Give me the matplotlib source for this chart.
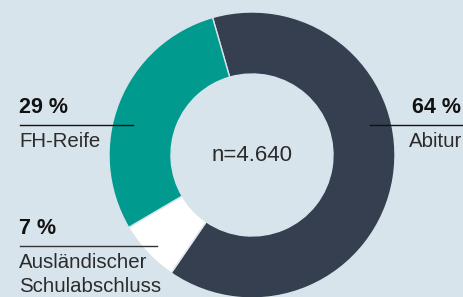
import matplotlib.pyplot as plt

labels = ["Abitur", "Ausländischer\nSchulabschluss", "FH-Reife"]
shares = [64, 7, 29]
colors = ["#353f4f", "#ffffff", "#009a8e"]
n_total = "4.640"

BG = "#d8e4ec"
H = 297

plt.rcParams['font.family'] = ['Liberation Sans', 'DejaVu Sans']

fig = plt.figure(figsize=(4.64, 2.97), dpi=100, facecolor=BG)
ax = fig.add_axes([0, 0, 1, 1])

ax.pie(shares, colors=colors, startangle=106, counterclock=False,
       center=(252, H - 155), radius=143,
       wedgeprops=dict(width=62, edgecolor=BG, linewidth=1))
ax.set_xlim(0, 464)
ax.set_ylim(0, H)
ax.set_aspect("equal")
ax.axis("off")

fs = 14.7
fsb = 15.5
tc = "#2b2b2b"
bc = "#111111"

ax.text(252, H - 155, f"n={n_total}", ha="center", va="center", fontsize=16, color=tc)

# FH-Reife (left top)
ax.text(19, H - 107, f"{shares[2]} %", ha="left", va="center", fontsize=fsb, fontweight="bold", color=bc)
ax.plot([20, 133], [H - 125, H - 125], color=bc, lw=1)
ax.text(19, H - 141, labels[2], ha="left", va="center", fontsize=fs, color=tc)

# Abitur (right)
ax.text(461, H - 107, f"{shares[0]} %", ha="right", va="center", fontsize=fsb, fontweight="bold", color=bc)
ax.plot([370, 464], [H - 125, H - 125], color=bc, lw=1)
ax.text(462, H - 141, labels[0], ha="right", va="center", fontsize=fs, color=tc)

# Ausländischer Schulabschluss (left bottom)
ax.text(19, H - 229, f"{shares[1]} %", ha="left", va="center", fontsize=fsb, fontweight="bold", color=bc)
ax.plot([20, 157], [H - 246.5, H - 246.5], color="#333333", lw=1)
l1, l2 = labels[1].split("\n")
ax.text(19, H - 263, l1, ha="left", va="center", fontsize=fs, color=tc)
ax.text(19, H - 287, l2, ha="left", va="center", fontsize=fs, color=tc)

fig.savefig("out.png", dpi=100, facecolor=BG)
